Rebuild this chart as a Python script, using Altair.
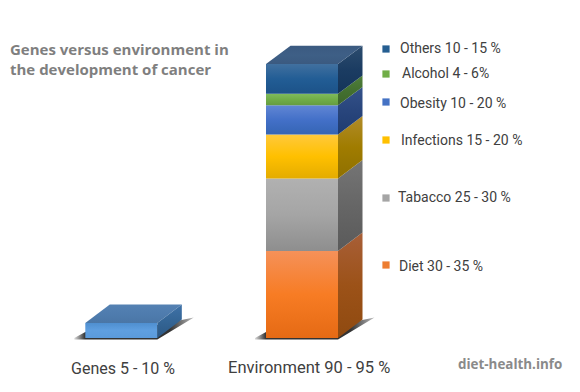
import altair as alt
import pandas as pd

# --- data -------------------------------------------------------------
bar_names = ["Genes 5 - 10 %", "Environment 90 - 95 %"]
segments = ["Diet", "Tabacco", "Infections", "Obesity", "Alcohol", "Others"]
segment_values = [30.2, 25.2, 15.3, 10.1, 4.0, 10.3]
genes_value = [5.2]
segment_labels = ["Diet 30 - 35 %", "Tabacco 25 - 30 %", "Infections 15 - 20 %",
                  "Obesity 10 - 20 %", "Alcohol 4 - 6%", "Others 10 - 15 %"]
legend_y = [267, 198, 141, 104, 74, 49]
legend_text_x = [399, 398, 401, 400, 402, 400]
legend_marker_y = [265, 198, 140, 102, 74, 49]
front_colors = [["#f59159", "#f77c24", "#e56a14"],
                ["#b1b1b1", "#a5a5a5", "#8e8e8e"],
                ["#ffc93c", "#ffc000", "#e4ac00"],
                ["#6186d4", "#4370c8", "#3565b4"],
                ["#7fba5c", "#70ad47", "#659c40"],
                ["#41709f", "#225d95", "#1c5288"]]
side_colors = [["#a85f38", "#9c5218", "#8f4a10"],
               ["#757575", "#666666", "#5a5a5a"],
               ["#b18c2a", "#a07c00", "#8f7000"],
               ["#34528a", "#28457c", "#1f3c70"],
               ["#50803c", "#437030", "#3d652b"],
               ["#2c4c6e", "#1b3c62", "#143459"]]
marker_colors = ["#ed7d31", "#a5a5a5", "#ffc000", "#4472c4", "#70ad47", "#255e91"]

title_lines = ["Genes versus environment in", "the development of cancer"]
credit = "diet-health.info"

# --- geometry of the drawing ------------------------------------------
W, H = 560, 370
PX_PER_UNIT = 2.88
BASE_PX = 338.0
DEPTH_X = 24.5
DEPTH_Y = 18.4 / PX_PER_UNIT
BAR_W = 72.0
bar_left = [85.3, 266.0]
FONT = "Open Sans"
LABEL_FONT = "Roboto"


def u(px):
    return (BASE_PX - px) / PX_PER_UNIT


def grad(stops):
    return alt.Gradient(
        gradient="linear", x1=0, x2=0, y1=0, y2=1,
        stops=[alt.GradientStop(color=c, offset=o)
               for c, o in zip(stops, [0, 0.5, 1])],
    )


X = alt.Scale(domain=[8, 8 + W], nice=False, zero=False)
Y = alt.Scale(domain=[u(8 + H), u(8)], nice=False, zero=False)
xe = lambda f="x": alt.X(f"{f}:Q", scale=X, axis=None)
ye = lambda f="y": alt.Y(f"{f}:Q", scale=Y, axis=None)
y2e = lambda f="y2": alt.Y2(f"{f}:Q")


def front(left, lo, hi, colors):
    d = pd.DataFrame({"x": [left], "x2": [left + BAR_W], "y": [hi], "y2": [lo]})
    return alt.Chart(d).mark_bar(color=grad(colors)).encode(
        x=xe(), x2=alt.X2("x2:Q"), y=ye(), y2=y2e())


def side(left, lo, hi, colors):
    r = left + BAR_W
    d = pd.DataFrame({"x": [r, r + DEPTH_X],
                      "y": [hi, hi + DEPTH_Y],
                      "y2": [lo, lo + DEPTH_Y]})
    return alt.Chart(d).mark_area(color=grad(colors)).encode(
        x=xe(), y=ye(), y2=y2e())


def top(left, hi, colors):
    r = left + BAR_W
    d = pd.DataFrame({"x": [left, left + DEPTH_X, r, r + DEPTH_X],
                      "y": [hi, hi + DEPTH_Y, hi + DEPTH_Y, hi + DEPTH_Y],
                      "y2": [hi, hi, hi, hi + DEPTH_Y]})
    return alt.Chart(d).mark_area(color=grad(colors)).encode(
        x=xe(), y=ye(), y2=y2e())


def shadow(left):
    r = left + BAR_W
    g = alt.Gradient(gradient="linear", x1=0, x2=1, y1=0, y2=0, stops=[
        alt.GradientStop(color="#dddddd", offset=0),
        alt.GradientStop(color="#333333", offset=0.09),
        alt.GradientStop(color="#333333", offset=0.8),
        alt.GradientStop(color="#bbbbbb", offset=1)])
    d = pd.DataFrame({"x": [left - 11, left, r, r + DEPTH_X + 12],
                      "y": [u(338), u(332), u(325), u(317.5)],
                      "y2": [u(339.5), u(339.5), u(339.5), u(317.5)]})
    return alt.Chart(d).mark_area(color=g).encode(
        x=xe(), y=ye(), y2=y2e())


def text(s, px, py, font=FONT, **kw):
    d = pd.DataFrame({"t": [s]})
    return alt.Chart(d).mark_text(font=font, align="left", baseline="middle", **kw).encode(
        x=alt.value(px - 8), y=alt.value(py - 8), text="t:N")


layers = [shadow(bar_left[0]), shadow(bar_left[1])]

# Genes bar
layers += [
    top(bar_left[0], genes_value[0], ["#5481b2", "#4f7cae", "#4a76a6"]),
    side(bar_left[0], 0, genes_value[0], ["#3f72a8", "#346595", "#2c5884"]),
    front(bar_left[0], 0, genes_value[0], ["#4f8fd0", "#5f9fe0", "#5b9bdc"]),
]

# Environment stack
lo = 0.0
for val, fc, sc in zip(segment_values, front_colors, side_colors):
    hi = lo + val
    layers += [side(bar_left[1], lo, hi, sc), front(bar_left[1], lo, hi, fc)]
    lo = hi
layers.append(top(bar_left[1], lo, ["#3b5a80", "#3e5f86", "#3b5a80"]))

# Legend
for lab, ty, tx, my, col in zip(segment_labels, legend_y, legend_text_x,
                                legend_marker_y, marker_colors):
    m = pd.DataFrame({"x": [386.0], "y": [u(my)]})
    layers.append(alt.Chart(m).mark_square(size=52, color=col, opacity=1).encode(
        x=xe(), y=ye()))
    layers.append(text(lab, tx, ty, font=LABEL_FONT, fontSize=14, color="#404040"))

# Bar names
layers.append(text(bar_names[0], 71, 369, font=LABEL_FONT, fontSize=16, color="#404040"))
layers.append(text(bar_names[1], 228, 368, font=LABEL_FONT, fontSize=16.5, color="#404040"))

# Title and credit
layers.append(text(title_lines[0], 10, 50, fontSize=15, fontWeight="bold", color="#7f7f7f"))
layers.append(text(title_lines[1], 10, 70, fontSize=15, fontWeight="bold", color="#7f7f7f"))
layers.append(text(credit, 458, 365, fontSize=13.4, fontWeight="bold", color="#8a8a8a"))

chart = alt.layer(*layers).properties(
    width=W, height=H, padding=0, background="white",
    autosize=alt.AutoSizeParams(type="none"),
).configure_view(stroke=None)

chart.save("out.html", embed_options={"renderer": "svg", "actions": False})
